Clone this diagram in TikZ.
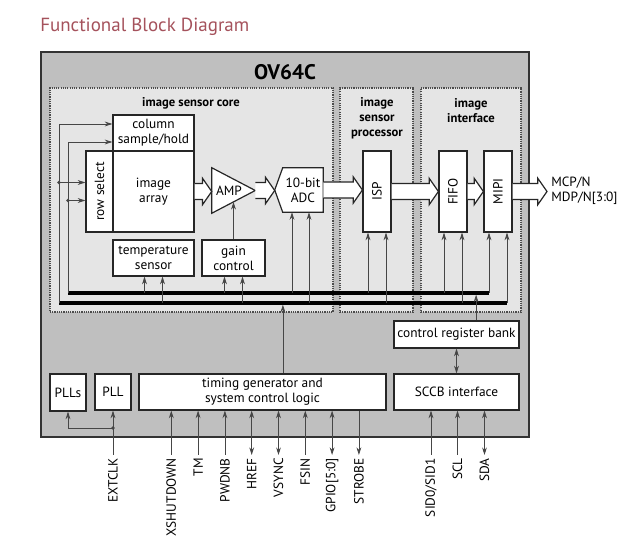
\documentclass[tikz,border=0pt]{standalone}
\usepackage{fontspec}
\setmainfont{PT Sans}
\usepackage{graphicx}
\usetikzlibrary{arrows.meta,positioning,calc}
\definecolor{chipgray}{RGB}{191,191,191}
\definecolor{coregray}{RGB}{229,229,229}
\definecolor{linegray}{RGB}{70,70,70}
\definecolor{titlered}{RGB}{165,82,92}

\newcommand{\fatarrow}[2]{%
  \filldraw[fatarr] let \p1=#1, \p2=#2 in
    (\x1,\y1+0.2cm) -- (\x2-0.23cm,\y1+0.2cm) -- (\x2-0.23cm,\y1+0.33cm)
    -- (\x2,\y1) -- (\x2-0.23cm,\y1-0.33cm) -- (\x2-0.23cm,\y1-0.2cm) -- (\x1,\y1-0.2cm);}

\begin{document}
\begin{tikzpicture}[
    x=0.025cm, y=-0.025cm,
    chip/.style={draw=black!80, line width=1pt, fill=chipgray, inner sep=0pt},
    region/.style={draw=black!70, line width=0.8pt, dash pattern=on 0.8pt off 0.8pt, fill=coregray, inner sep=0pt},
    blk/.style={draw=black!85, line width=0.85pt, fill=white, align=center, inner sep=0pt, font=\fontsize{9.5}{10.7}\selectfont},
    shp/.style={inner sep=0pt},
    blkline/.style={draw=black!85, line width=0.85pt, fill=white},
    lbl/.style={inner sep=0pt, align=center, font=\fontsize{9.5}{10.7}\selectfont},
    hdr/.style={inner sep=0pt, align=center, font=\fontsize{9}{10.7}\selectfont\bfseries},
    tap/.style={draw=linegray, line width=0.55pt, -{Stealth[length=1.9mm,width=1.2mm]}},
    pinin/.style={tap},
    pinio/.style={draw=linegray, line width=0.55pt, {Stealth[length=1.9mm,width=1.2mm]}-{Stealth[length=1.9mm,width=1.2mm]}},
    pinout/.style={draw=linegray, line width=0.55pt, {Stealth[length=1.9mm,width=1.2mm]}-},
    pinlbl/.style={rotate=90, anchor=east, inner sep=0pt, font=\fontsize{9.5}{10.7}\selectfont},
    bus/.style={line width=2.4pt, black},
    fatarr/.style={draw=black!85, line width=0.85pt, fill=white}
]
\path[use as bounding box, fill=white] (0,0) rectangle (640,557);

\node[anchor=base west, inner sep=0pt, text=titlered, font=\fontsize{13.5}{16}\selectfont] (title) at (40,32) {Functional Block Diagram};

\node[chip, minimum width=12.2cm, minimum height=9.625cm] (chip) at (285,244.5) {};
\node[font=\fontsize{15}{18}\selectfont\bfseries, inner sep=0pt] (chiplbl) at (285,72) {OV64C};

\node[region, minimum width=7.075cm, minimum height=5.6cm] (core) at (191.5,200) {};
\node[region, minimum width=1.825cm, minimum height=5.6cm] (ispreg) at (376.5,200) {};
\node[region, minimum width=2.5cm, minimum height=5.6cm] (ifreg) at (471,200) {};
\node[hdr] (corelbl) at (191,103) {image sensor core};
\node[hdr] (isplbl) at (377,118) {image\\sensor\\processor};
\node[hdr] (iflbl) at (471,110.5) {image\\interface};

\node[blk, minimum width=2.025cm, minimum height=0.9cm] (cols) at (153.5,133) {column\\sample/hold};
\node[blk, minimum width=0.675cm, minimum height=2.025cm] (rowsel) at (99.5,191.5) {\rotatebox{90}{row select}};
\node[blk, minimum width=2.025cm, minimum height=2.025cm] (array) at (153.5,191.5) {image\\array};
\node[blk, minimum width=2.025cm, minimum height=0.9cm] (temp) at (153.5,258) {temperature\\sensor};
\node[blk, minimum width=1.575cm, minimum height=0.9cm] (gain) at (233.5,258) {gain\\control};

\node[shp, minimum width=1.075cm, minimum height=1.125cm] (amp) at (233.5,190.5) {};
\filldraw[blkline] (amp.north west) -- (amp.east) -- (amp.south west) -- cycle;
\node[lbl] (amplbl) at (229,190.5) {AMP};

\node[shp, minimum width=1cm, minimum height=1.1cm] (adc) at (303,190) {};
\coordinate (adcnotch) at ([xshift=-0.2cm]adc.west);
\filldraw[blkline] (adc.north west) -- (adc.north east) -- (adc.south east) -- (adc.south west) -- (adcnotch) -- cycle;
\node[lbl] (adclbl) at (adc.center) {10-bit\\ADC};

\node[blk, minimum width=0.7cm, minimum height=2.025cm] (isp) at (377,191.5) {\rotatebox{90}{ISP}};
\node[blk, minimum width=0.7cm, minimum height=2.025cm] (fifo) at (453,191.5) {\rotatebox{90}{FIFO}};
\node[blk, minimum width=0.7cm, minimum height=2.025cm] (mipi) at (498,191.5) {\rotatebox{90}{MIPI}};

\coordinate (out) at (547,191.5);
\node[lbl, anchor=west, align=left] (outlbl) at (551,190.5) {MCP/N\\MDP/N[3:0]};

\fatarrow{(array.east)}{(amp.west)}
\fatarrow{(amp.east)}{(adcnotch)}
\fatarrow{(adc.east)}{(isp.west)}
\fatarrow{(isp.east)}{(fifo.west)}
\fatarrow{(fifo.east)}{(mipi.west)}
\fatarrow{(mipi.east)}{(out)}

\node[blk, minimum width=3.125cm, minimum height=0.675cm] (crb) at (456.5,334.5) {control register bank};
\node[blk, minimum width=3.125cm, minimum height=0.9cm] (sccb) at (456.5,392) {SCCB interface};
\node[blk, minimum width=0.9cm, minimum height=0.925cm] (plls) at (68,392.5) {PLLs};
\node[blk, minimum width=0.9cm, minimum height=0.9cm] (pll) at (113,392) {PLL};
\node[blk, minimum width=6.175cm, minimum height=0.9cm] (timing) at (262.5,392) {timing generator and\\system control logic};

\coordinate (ubusL) at (68,293);
\coordinate (ubusR) at (489,293);
\coordinate (lbusL) at (59,303);
\coordinate (lbusR) at (507,303);
\draw[bus] (ubusL) -- (ubusR);
\draw[bus] (lbusL) -- (lbusR);

\draw[tap] (lbusL) |- ([yshift=0.225cm]cols.west);
\draw[tap] (ubusL) |- ([yshift=-0.225cm]cols.west);
\coordinate (rs1) at ([yshift=0.225cm]rowsel.west);
\coordinate (rs2) at ([yshift=-0.225cm]rowsel.west);
\draw[tap] (lbusL |- rs1) -- (rs1);
\draw[tap] (ubusL |- rs2) -- (rs2);
\fill[linegray] (lbusL |- rs1) circle[radius=1.4pt];
\fill[linegray] (ubusL |- rs2) circle[radius=1.4pt];

\foreach \b in {temp,gain,isp,fifo,mipi} {
  \path ([xshift=-0.225cm]\b.south) coordinate (ta) ([xshift=0.225cm]\b.south) coordinate (tb);
  \draw[tap] (ta |- ubusL) -- (ta);
  \draw[tap] (tb |- lbusL) -- (tb);
}
\path ([xshift=-0.275cm]adc.south) coordinate (ta) ([xshift=0.15cm]adc.south) coordinate (tb);
\draw[tap] (ta |- ubusL) -- (ta);
\draw[tap] (tb |- lbusL) -- (tb);
\draw[tap] (gain.north) -- ($(amp.south west)!0.5!(amp.east)$);

\path ([xshift=0.51cm]timing.north) coordinate (tt);
\draw[tap, shorten >=1.2pt] (tt) -- (tt |- lbusL);
\path ([xshift=0.49cm]crb.north) coordinate (tc);
\draw[tap, shorten >=1.2pt] (tc) -- (tc |- ubusL);
\draw[pinio] (sccb.north) -- (crb.south);

\coordinate (pe) at (113,455);
\coordinate (pj) at (113,428);
\node[pinlbl] (pel) at (113,458) {EXTCLK};
\draw[pinin] (pe) -- (pll.south);
\draw[pinin] (pj) -| (plls.south);
\fill[linegray] (pj) circle[radius=1.4pt];

\foreach \px/\pin/\dir [count=\i] in {171.3/XSHUTDOWN/pinin, 198.1/TM/pinin, 224.9/PWDNB/pinin, 251.7/HREF/pinio, 278.5/VSYNC/pinio, 305.3/FSIN/pinin, 332.1/GPIO[5:0]/pinio, 358.9/STROBE/pinout} {
  \coordinate (pt\i) at (\px,455);
  \node[pinlbl] (pl\i) at (\px,458) {\pin};
  \draw[\dir] (pt\i) -- (pt\i |- timing.south);
}
\foreach \px/\pin/\dir [count=\i] in {431/{SID0/SID1}/pinin, 457.5/SCL/pinin, 484.5/SDA/pinio} {
  \coordinate (ps\i) at (\px,455);
  \node[pinlbl] (psl\i) at (\px,458) {\pin};
  \draw[\dir] (ps\i) -- (ps\i |- sccb.south);
}
\end{tikzpicture}
\end{document}
